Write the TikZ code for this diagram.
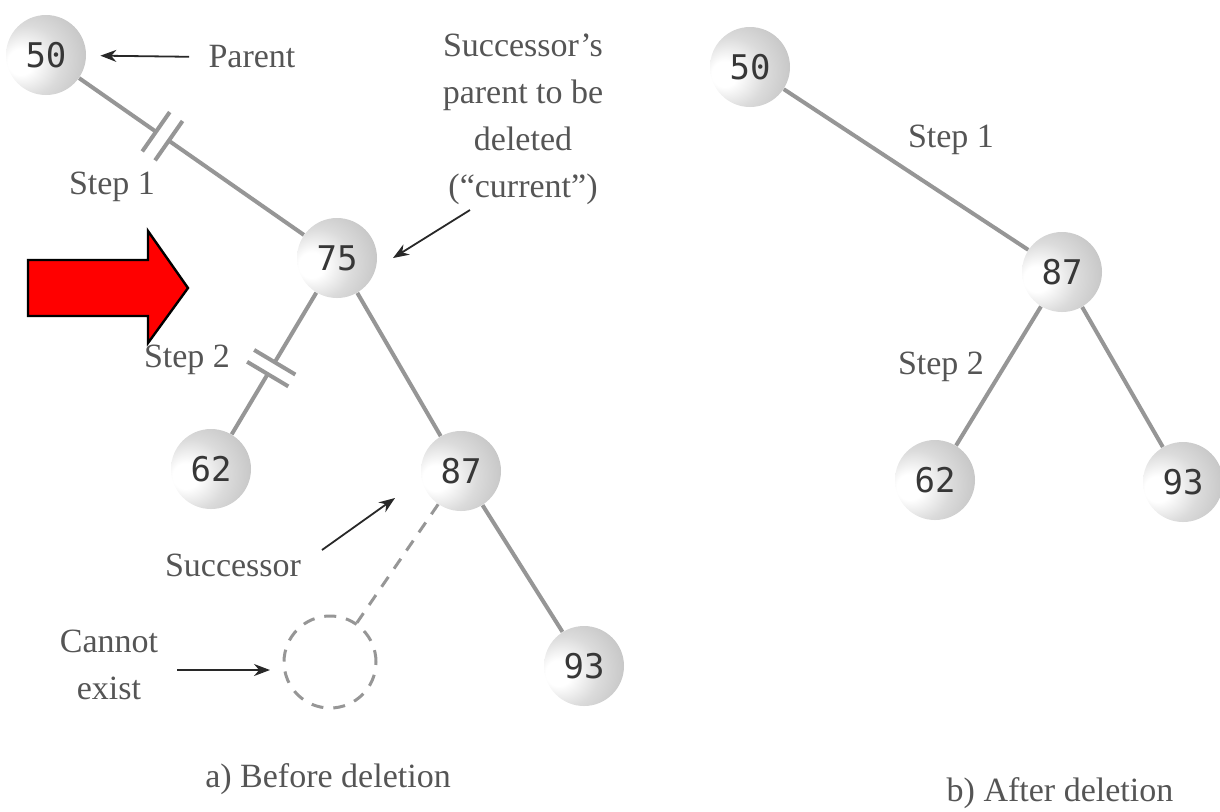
\documentclass[tikz,border=0pt]{standalone}
\usepackage{fontspec}
\setmainfont{Liberation Serif}
\newfontfamily\numfont{DejaVu Sans Mono}
\usetikzlibrary{calc,arrows.meta}
\definecolor{txt}{RGB}{85,85,85}
\definecolor{edgec}{RGB}{150,150,150}
\definecolor{arrc}{RGB}{40,40,40}
\definecolor{numc}{RGB}{55,55,55}
\pgfdeclareradialshading{sphereshade}{\pgfpoint{-18bp}{-5bp}}{color(0bp)=(white); color(8bp)=(white); color(22bp)=(gray!28); color(38bp)=(gray!48); color(52bp)=(gray!62); color(70bp)=(gray!72)}
\begin{document}
\begin{tikzpicture}[x=0.5pt,y=-0.5pt,
  ball/.style={circle, minimum size=40pt, inner sep=0pt, shading=sphereshade, font=\numfont\fontsize{17}{17}\selectfont, text=numc},
  lbl/.style={inner sep=0pt, font=\fontsize{17}{23.5}\selectfont, text=txt, align=center},
  tedge/.style={draw=edgec, line width=2pt},
  barline/.style={draw=edgec, line width=2pt},
  arr/.style={draw=arrc, line width=0.9pt, -{Stealth[length=8pt,width=6pt]}},
  ghost/.style={circle, minimum size=46pt, inner sep=0pt, draw=edgec, line width=1.5pt, dash pattern=on 6pt off 5pt},
  dashedge/.style={draw=edgec, line width=1.5pt, dash pattern=on 6pt off 5pt}
]
\useasboundingbox (0,0) rectangle (1220,811);

% left tree
\node[ball] (a50) at (46,55) {50};
\node[ball] (a75) at (337,258) {75};
\node[ball] (a62) at (211,469) {62};
\node[ball] (a87) at (461,471) {87};
\node[ball] (a93) at (584,666) {93};
\node[ghost] (gh) at (330,662) {};

% right tree
\node[ball] (b50) at (750,67) {50};
\node[ball] (b87) at (1062,272) {87};
\node[ball] (b62) at (935,480) {62};
\node[ball] (b93) at (1183,482) {93};

% labels
\node[lbl] (parent) at (252,57) {Parent};
\node[lbl] (step1a) at (112,187) {Step 1};
\node[lbl] (step2a) at (187,360) {Step 2};
\node[lbl] (succp) at (523,119) {Successor’s\\parent to be\\deleted\\(“current”)};
\node[lbl] (succ) at (233,565) {Successor};
\node[lbl] (cannot) at (109,665) {Cannot\\exist};
\node[lbl] (capa) at (328,779) {a) Before deletion};
\node[lbl] (capb) at (1060,793) {b) After deletion};
\node[lbl] (step1b) at (951,140) {Step 1};
\node[lbl] (step2b) at (941,367) {Step 2};

% edges left
\coordinate (g1a) at ($(a50)!0.378!(a75)$);
\coordinate (g1b) at ($(a50)!0.422!(a75)$);
\draw[tedge] (a50) -- (g1a);
\draw[tedge] (g1b) -- (a75);
\draw[barline] ($(g1a)!12pt!90:(a75)$) -- ($(g1a)!12pt!-90:(a75)$);
\draw[barline] ($(g1b)!12pt!90:(a75)$) -- ($(g1b)!12pt!-90:(a75)$);

\coordinate (g2a) at ($(a75)!0.494!(a62)$);
\coordinate (g2b) at ($(a75)!0.550!(a62)$);
\draw[tedge] (a75) -- (g2a);
\draw[tedge] (g2b) -- (a62);
\draw[barline] ($(g2a)!12pt!90:(a62)$) -- ($(g2a)!12pt!-90:(a62)$);
\draw[barline] ($(g2b)!12pt!90:(a62)$) -- ($(g2b)!12pt!-90:(a62)$);

\draw[tedge] (a75) -- (a87);
\draw[tedge] (a87) -- (a93);
\draw[dashedge] (a87) -- (gh);

% edges right
\draw[tedge] (b50) -- (b87);
\draw[tedge] (b87) -- (b62);
\draw[tedge] (b87) -- (b93);

% annotation arrows
\draw[arr, shorten <=9.5pt, shorten >=7pt] (parent.west) -- (a50);
\coordinate (curS) at (470,210);
\coordinate (curT) at (393,258);
\draw[arr] (curS) -- (curT);
\coordinate (sucS) at (322,550);
\coordinate (sucT) at (395,498);
\draw[arr] (sucS) -- (sucT);
\coordinate (canS) at (177,670);
\coordinate (canT) at (270,670);
\draw[arr] (canS) -- (canT);

% red block arrow
\draw[fill=red, draw=black, line width=1.2pt, line join=miter] (28,260) -- (148,260) -- (148,231) -- (188,288) -- (148,343) -- (148,316) -- (28,316) -- cycle;
\end{tikzpicture}
\end{document}
